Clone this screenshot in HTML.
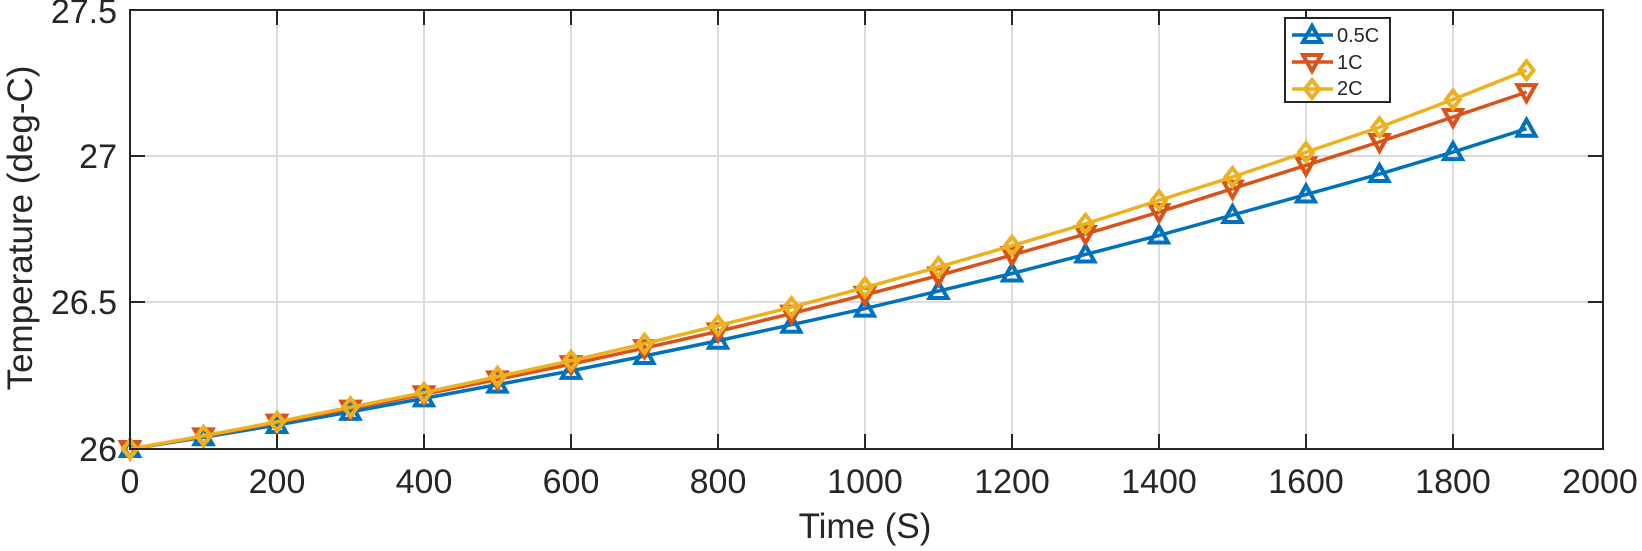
<!DOCTYPE html>
<html><head><meta charset="utf-8"><style>
html,body{margin:0;padding:0;background:#fff;}
svg text{font-family:"Liberation Sans",sans-serif;fill:#262626;}
</style></head><body>
<svg id="s" width="1642" height="546" viewBox="0 0 1642 546" xmlns="http://www.w3.org/2000/svg">
<rect x="0" y="0" width="1642" height="546" fill="#fff"/>
<g stroke="#dcdcdc" stroke-width="2">
<line x1="277" y1="10" x2="277" y2="449"/><line x1="424" y1="10" x2="424" y2="449"/>
<line x1="571" y1="10" x2="571" y2="449"/><line x1="718" y1="10" x2="718" y2="449"/>
<line x1="865" y1="10" x2="865" y2="449"/><line x1="1012" y1="10" x2="1012" y2="449"/>
<line x1="1159" y1="10" x2="1159" y2="449"/><line x1="1306" y1="10" x2="1306" y2="449"/>
<line x1="1453" y1="10" x2="1453" y2="449"/>
<line x1="130" y1="156" x2="1603" y2="156"/><line x1="130" y1="302" x2="1603" y2="302"/>
</g>
<g id="series"></g>
<rect x="130" y="10" width="1473" height="439" fill="none" stroke="#262626" stroke-width="2"/>
<g stroke="#262626" stroke-width="2">
<line x1="277" y1="449" x2="277" y2="434"/><line x1="424" y1="449" x2="424" y2="434"/><line x1="571" y1="449" x2="571" y2="434"/><line x1="718" y1="449" x2="718" y2="434"/><line x1="865" y1="449" x2="865" y2="434"/><line x1="1012" y1="449" x2="1012" y2="434"/><line x1="1159" y1="449" x2="1159" y2="434"/><line x1="1306" y1="449" x2="1306" y2="434"/><line x1="1453" y1="449" x2="1453" y2="434"/>
<line x1="277" y1="10" x2="277" y2="25"/><line x1="424" y1="10" x2="424" y2="25"/><line x1="571" y1="10" x2="571" y2="25"/><line x1="718" y1="10" x2="718" y2="25"/><line x1="865" y1="10" x2="865" y2="25"/><line x1="1012" y1="10" x2="1012" y2="25"/><line x1="1159" y1="10" x2="1159" y2="25"/><line x1="1306" y1="10" x2="1306" y2="25"/><line x1="1453" y1="10" x2="1453" y2="25"/>
<line x1="130" y1="156" x2="145" y2="156"/><line x1="130" y1="302" x2="145" y2="302"/>
<line x1="1603" y1="156" x2="1588" y2="156"/><line x1="1603" y1="302" x2="1588" y2="302"/>
</g>
<g font-size="34" text-anchor="middle">
<text x="130" y="493">0</text><text x="277" y="493">200</text><text x="424" y="493">400</text><text x="571" y="493">600</text><text x="718" y="493">800</text><text x="865" y="493">1000</text><text x="1012" y="493">1200</text><text x="1159" y="493">1400</text><text x="1306" y="493">1600</text><text x="1453" y="493">1800</text><text x="1600" y="493">2000</text>
</g>
<g font-size="34" text-anchor="end">
<text x="117" y="461">26</text><text x="117" y="314">26.5</text><text x="117" y="168">27</text><text x="117" y="23">27.5</text>
</g>
<text x="865" y="538" font-size="35" text-anchor="middle">Time (S)</text>
<text transform="translate(32,228) rotate(-90)" font-size="35" text-anchor="middle">Temperature (deg-C)</text>
<rect x="1285" y="18" width="105" height="84" fill="#fff" stroke="#262626" stroke-width="2"/>
<g id="leg"></g>
<g font-size="20"><text x="1337" y="42">0.5C</text><text x="1337" y="69">1C</text><text x="1337" y="95">2C</text></g>
</svg>
<script>
var d=[
[26,26.04,26.082,26.127,26.173,26.22,26.267,26.318,26.37,26.425,26.48,26.54,26.6,26.665,26.73,26.8,26.87,26.94,27.015,27.095],
[26,26.043,26.09,26.138,26.187,26.238,26.29,26.345,26.402,26.463,26.527,26.593,26.663,26.735,26.81,26.89,26.97,27.05,27.135,27.22],
[26,26.045,26.093,26.143,26.193,26.247,26.302,26.36,26.422,26.485,26.552,26.622,26.695,26.77,26.85,26.93,27.015,27.1,27.195,27.295]];
var col=["#0072bd","#d95319","#edb120"];
function mk(k,x,y){
 if(k==0)return '<polygon points="'+x+','+(y-9)+' '+(x-9)+','+(y+7)+' '+(x+9)+','+(y+7)+'" fill="none" stroke="'+col[0]+'" stroke-width="4"/>';
 if(k==1)return '<polygon points="'+x+','+(y+9)+' '+(x-9)+','+(y-7)+' '+(x+9)+','+(y-7)+'" fill="none" stroke="'+col[1]+'" stroke-width="4"/>';
 return '<polygon points="'+x+','+(y-9)+' '+(x+7)+','+y+' '+x+','+(y+9)+' '+(x-7)+','+y+'" fill="none" stroke="'+col[2]+'" stroke-width="4"/>';
}
var h='';
for(var k=0;k<3;k++){var p=[],m='';for(var i=0;i<20;i++){var x=130+i*73.5,y=449-(d[k][i]-26)*292.5;p.push(x+','+y);m+=mk(k,x,y);}
h+='<polyline points="'+p.join(' ')+'" fill="none" stroke="'+col[k]+'" stroke-width="3.5"/>'+m;}
document.getElementById('series').innerHTML=h;
var l='';for(var k=0;k<3;k++){var y=35+k*27;l+='<line x1="1292" y1="'+y+'" x2="1333" y2="'+y+'" stroke="'+col[k]+'" stroke-width="3.5"/>'+mk(k,1312,y);}
document.getElementById('leg').innerHTML=l;
</script>
</body></html>
